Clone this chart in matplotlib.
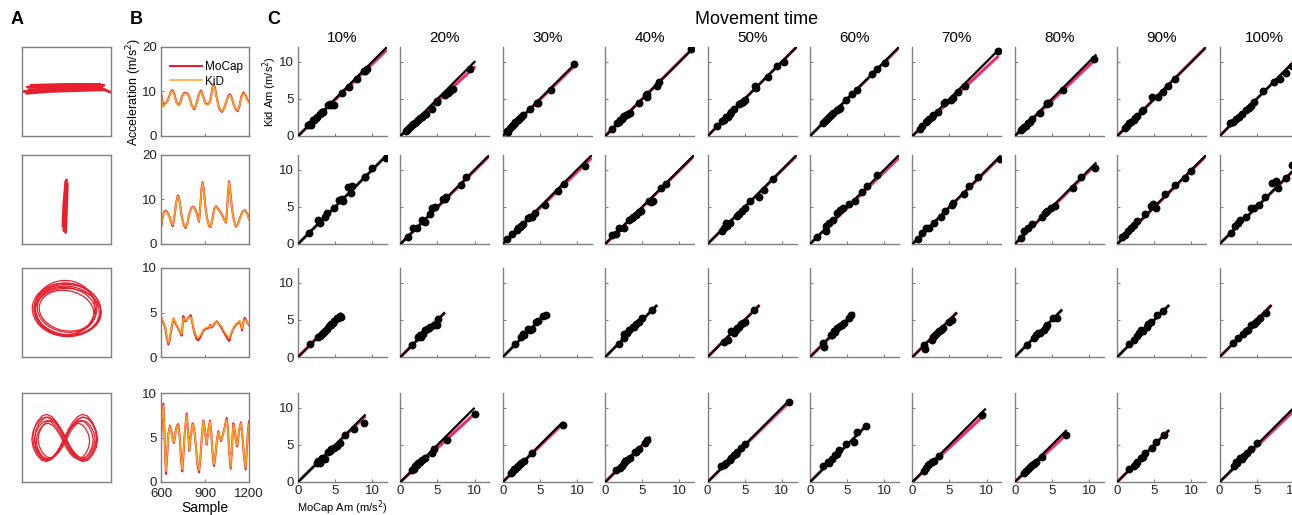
import matplotlib
matplotlib.use("Agg")
import matplotlib.pyplot as plt
from matplotlib.patches import Ellipse
import numpy as np

plt.rcParams['font.family'] = ['Liberation Sans', 'DejaVu Sans']

# ---------------- data ----------------
percent_labels = ['10%', '20%', '30%', '40%', '50%', '60%', '70%', '80%', '90%', '100%']

# Panel A trajectories (normalised box coordinates)
a1_strokes_x = [[0.0, 0.3, 0.6, 0.9, 1.0], [0.06, 0.35, 0.65, 0.92], [0.08, 0.4, 0.7, 0.9],
                [0.05, 0.3, 0.6, 0.93], [0.1, 0.5, 0.88]]
a1_strokes_y = [[0.50, 0.51, 0.52, 0.53, 0.49], [0.55, 0.55, 0.56, 0.57], [0.52, 0.53, 0.54, 0.55],
                [0.48, 0.50, 0.51, 0.52], [0.57, 0.58, 0.58]]
a2_strokes_x = [[0.47, 0.48, 0.49], [0.49, 0.50, 0.51], [0.48, 0.49, 0.50], [0.46, 0.47, 0.49]]
a2_strokes_y = [[0.15, 0.45, 0.70], [0.13, 0.40, 0.68], [0.18, 0.50, 0.72], [0.20, 0.45, 0.66]]
ell_cx = [0.50, 0.51, 0.49, 0.50, 0.52, 0.48, 0.50, 0.51]
ell_cy = [0.53, 0.52, 0.54, 0.53, 0.51, 0.55, 0.52, 0.53]
ell_w = [0.77, 0.72, 0.70, 0.66, 0.74, 0.68, 0.62, 0.75]
ell_h = [0.60, 0.55, 0.58, 0.50, 0.52, 0.62, 0.45, 0.57]
ell_ang = [-5, -8, 0, -10, -5, 5, -12, -3]
fig8_u = [0.00, 0.12, 0.25, 0.40, 0.55, 0.70, 0.85, 0.96, 1.00, 0.96, 0.85, 0.70, 0.55, 0.40, 0.25, 0.12,
          0.00, -0.12, -0.25, -0.40, -0.55, -0.70, -0.85, -0.96, -1.00, -0.96, -0.85, -0.70, -0.55, -0.40,
          -0.25, -0.12, 0.00]
fig8_v = [0.00, 0.18, 0.33, 0.45, 0.50, 0.47, 0.35, 0.18, 0.00, -0.18, -0.35, -0.47, -0.50, -0.45, -0.33,
          -0.18, 0.00, 0.18, 0.33, 0.45, 0.50, 0.47, 0.35, 0.18, 0.00, -0.18, -0.35, -0.47, -0.50, -0.45,
          -0.33, -0.18, 0.00]
f8_cx = [0.48, 0.47, 0.49, 0.46, 0.48, 0.50]
f8_cy = [0.48, 0.47, 0.49, 0.46, 0.50, 0.48]
f8_sx = [0.37, 0.33, 0.35, 0.30, 0.36, 0.32]
f8_sy = [0.50, 0.44, 0.48, 0.40, 0.52, 0.42]

# Panel B acceleration time series
b1_t = [600, 606, 616, 628, 640, 655, 668, 680, 692, 705, 718, 730, 742, 755, 768, 782, 795, 810, 827, 842,
        858, 873, 888, 903, 918, 930, 940, 950, 959, 968, 980, 995, 1014, 1030, 1048, 1060, 1070, 1082, 1096,
        1110, 1123, 1135, 1148, 1161, 1175, 1188, 1200]
b1_mocap = [9.8, 8.5, 6.8, 7.3, 7.6, 8.8, 10.0, 10.3, 9.3, 7.6, 7.0, 7.2, 8.8, 9.6, 9.7, 9.5, 8.6, 6.8, 6.0,
            7.3, 9.4, 10.2, 8.8, 7.3, 7.1, 7.4, 8.6, 10.6, 11.6, 10.8, 8.6, 6.3, 5.4, 6.2, 8.0, 9.1, 9.4, 8.6,
            7.0, 6.0, 5.6, 6.8, 8.8, 9.8, 9.2, 8.2, 7.7]
b1_kid = [9.5, 8.2, 6.5, 7.1, 7.5, 8.7, 9.9, 10.1, 9.2, 7.5, 6.8, 7.1, 8.7, 9.5, 9.6, 9.4, 8.5, 6.8, 6.2,
          7.2, 9.3, 10.0, 8.7, 7.2, 7.0, 7.3, 8.5, 10.4, 11.3, 10.6, 8.5, 6.4, 5.6, 6.3, 7.9, 9.0, 9.2, 8.5,
          7.0, 6.1, 5.8, 6.8, 8.6, 9.6, 9.0, 8.1, 7.4]
b2_t = [600, 610, 620, 632, 645, 660, 672, 680, 690, 702, 712, 718, 728, 740, 755, 768, 780, 795, 808, 820,
        832, 845, 859, 868, 876, 884, 892, 902, 915, 928, 938, 950, 962, 975, 990, 1005, 1020, 1035, 1043,
        1050, 1057, 1064, 1072, 1082, 1095, 1111, 1125, 1140, 1155, 1173, 1188, 1200]
b2_mocap = [3.6, 5.8, 7.2, 7.5, 7.0, 6.0, 4.5, 4.0, 5.8, 9.0, 10.6, 10.9, 9.4, 6.5, 4.3, 3.6, 4.8, 7.0, 8.2,
            8.4, 7.9, 6.8, 5.0, 8.5, 12.4, 13.9, 12.2, 8.5, 5.6, 4.0, 3.8, 5.5, 7.8, 8.5, 7.9, 7.2, 6.3, 5.2,
            4.8, 7.5, 11.5, 14.1, 12.0, 8.5, 5.6, 3.9, 4.6, 6.0, 7.2, 7.6, 6.8, 5.6]
b2_kid = [3.8, 5.9, 7.1, 7.4, 6.9, 5.9, 4.6, 4.2, 5.9, 8.9, 10.4, 10.7, 9.3, 6.5, 4.4, 3.8, 4.9, 7.0, 8.1,
          8.3, 7.8, 6.7, 5.1, 8.4, 12.2, 13.7, 12.0, 8.4, 5.6, 4.1, 3.9, 5.5, 7.7, 8.4, 7.8, 7.1, 6.2, 5.2,
          4.9, 7.4, 11.3, 13.9, 11.9, 8.4, 5.6, 4.0, 4.6, 5.9, 7.1, 7.5, 6.7, 5.5]
b3_t = [600, 612, 627, 640, 650, 659, 668, 684, 693, 705, 718, 730, 741, 747, 752, 760, 770, 780, 793, 802,
        812, 825, 843, 856, 870, 890, 910, 925, 935, 944, 955, 965, 980, 1000, 1015, 1035, 1055, 1066, 1078,
        1093, 1110, 1135, 1147, 1153, 1160, 1170, 1185, 1200]
b3_mocap = [4.5, 4.0, 3.4, 2.2, 1.4, 1.9, 2.9, 4.3, 4.0, 3.6, 3.2, 2.8, 2.4, 3.5, 4.6, 4.1, 4.0, 4.3, 4.5, 4.7,
            4.0, 2.9, 2.0, 1.9, 2.3, 3.0, 3.2, 3.3, 3.6, 3.3, 3.5, 3.8, 4.0, 3.6, 3.2, 2.6, 2.0, 1.8, 2.6, 3.2,
            3.6, 4.0, 3.5, 3.0, 3.8, 4.4, 4.0, 3.6]
b3_kid = [4.5, 4.1, 3.5, 2.4, 1.6, 2.0, 3.1, 4.4, 4.1, 3.7, 3.3, 2.9, 2.6, 3.5, 4.4, 4.2, 4.1, 4.3, 4.4, 4.5,
          4.1, 3.1, 2.3, 2.2, 2.5, 3.1, 3.3, 3.4, 3.5, 3.4, 3.6, 3.9, 3.9, 3.7, 3.4, 2.8, 2.3, 2.1, 2.7, 3.3,
          3.7, 4.1, 3.6, 3.2, 3.8, 4.2, 4.0, 3.7]
b4_t = [600, 606, 616, 622, 628, 634, 642, 650, 661, 672, 682, 689, 698, 708, 718, 728, 737, 745, 752, 762,
        775, 782, 793, 803, 816, 826, 838, 850, 859, 868, 878, 889, 898, 911, 920, 934, 943, 952, 961, 970,
        980, 991, 1000, 1010, 1020, 1035, 1048, 1056, 1065, 1075, 1082, 1093, 1103, 1112, 1120, 1132, 1145,
        1155, 1165, 1177, 1185, 1192, 1200]
b4_mocap = [4.8, 6.8, 8.8, 6.5, 3.2, 0.9, 3.0, 5.4, 6.3, 5.6, 4.6, 4.4, 5.5, 6.3, 6.5, 5.0, 2.5, 1.2, 2.8,
            5.5, 7.7, 6.3, 3.5, 5.2, 6.6, 6.0, 4.0, 1.8, 1.1, 2.5, 5.0, 6.9, 6.0, 4.2, 5.5, 6.9, 5.5, 3.2, 1.8,
            2.8, 4.5, 5.7, 5.0, 4.6, 5.2, 6.2, 7.2, 6.0, 3.5, 1.5, 3.3, 6.6, 5.8, 4.5, 4.0, 5.8, 6.7, 5.2, 3.0,
            1.4, 3.5, 5.5, 6.8]
b4_kid = [5.0, 6.9, 8.6, 6.4, 3.3, 1.2, 3.1, 5.4, 6.2, 5.5, 4.6, 4.5, 5.5, 6.2, 6.4, 5.0, 2.7, 1.4, 2.9,
          5.5, 7.5, 6.2, 3.6, 5.2, 6.5, 5.9, 4.0, 2.0, 1.3, 2.6, 5.0, 6.8, 5.9, 4.3, 5.5, 6.8, 5.4, 3.3, 2.0,
          2.9, 4.5, 5.6, 5.0, 4.7, 5.2, 6.1, 7.0, 5.9, 3.6, 1.7, 3.4, 6.5, 5.7, 4.5, 4.1, 5.8, 6.6, 5.2, 3.1,
          1.6, 3.5, 5.4, 6.5]

# Panel C scatter data: MoCap Am (x) vs KiD Am (y), one list per movement-time column
c_row1_x = [[1.4, 1.7, 1.6, 2.0, 2.2, 2.3, 2.4, 2.6, 3.0, 3.1, 3.2, 3.3, 3.4, 4.1, 4.3, 4.4, 4.8, 5.9, 6.9, 8.0, 8.9, 9.1, 9.3],
            [0.7, 0.9, 1.0, 1.3, 1.5, 1.7, 2.0, 2.2, 2.4, 2.6, 2.9, 3.2, 3.4, 4.2, 4.9, 5.0, 6.0, 6.4, 6.7, 7.1, 9.4],
            [0.6, 0.7, 1.0, 1.2, 1.4, 1.6, 1.7, 2.0, 2.2, 2.4, 2.7, 3.7, 4.6, 4.7, 6.5, 9.6],
            [0.9, 1.6, 1.8, 2.0, 2.2, 2.4, 2.6, 2.8, 3.1, 3.4, 4.5, 5.5, 5.6, 5.7, 7.0, 7.3, 11.6],
            [1.3, 2.0, 2.2, 2.5, 2.7, 3.0, 3.2, 3.5, 4.3, 4.5, 4.8, 5.1, 6.4, 6.5, 8.1, 9.4, 10.3],
            [1.8, 2.0, 2.3, 2.6, 2.8, 3.1, 3.6, 3.9, 4.1, 4.9, 5.7, 6.4, 8.4, 9.1, 10.1],
            [1.0, 1.3, 1.8, 2.0, 2.3, 2.6, 2.8, 3.4, 4.3, 4.4, 5.2, 5.5, 6.2, 7.1, 11.5],
            [0.8, 1.0, 1.3, 1.5, 1.8, 2.0, 2.3, 3.4, 4.3, 4.4, 4.6, 6.5, 10.7],
            [1.0, 1.3, 1.6, 1.9, 2.2, 2.4, 2.7, 3.3, 3.5, 4.7, 5.5, 6.2, 6.9, 7.8],
            [1.4, 1.8, 2.2, 2.6, 3.0, 3.5, 4.0, 4.3, 4.7, 5.9, 7.4, 8.1, 9.0, 9.8]]
c_row1_y = [[1.45, 1.5, 1.6, 2.1, 2.2, 2.3, 2.4, 2.6, 3.0, 3.1, 3.2, 3.3, 3.2, 4.2, 4.3, 4.2, 4.2, 5.8, 6.6, 7.7, 8.8, 8.7, 9.0],
            [0.7, 0.8, 1.0, 1.25, 1.45, 1.6, 1.8, 2.0, 2.2, 2.4, 2.6, 2.8, 2.9, 3.6, 4.7, 4.6, 5.5, 5.8, 6.0, 6.4, 9.0],
            [0.7, 0.6, 1.1, 1.3, 1.5, 1.7, 1.9, 2.2, 2.3, 2.5, 2.8, 3.6, 4.5, 4.4, 6.2, 9.7],
            [0.9, 1.7, 1.9, 2.1, 2.3, 2.6, 2.7, 2.8, 3.0, 3.1, 4.5, 5.5, 5.6, 5.3, 6.7, 7.3, 11.7],
            [1.3, 2.0, 2.1, 2.5, 2.6, 3.0, 3.2, 3.6, 4.3, 4.4, 4.6, 4.8, 6.7, 6.5, 7.9, 9.4, 10.0],
            [1.75, 2.0, 2.3, 2.6, 2.8, 3.1, 3.5, 3.6, 3.8, 4.9, 5.6, 6.2, 8.3, 9.1, 9.8],
            [1.0, 1.3, 1.9, 2.0, 2.3, 2.5, 2.8, 3.2, 4.5, 4.6, 4.9, 5.1, 5.9, 6.7, 11.5],
            [0.75, 0.9, 1.2, 1.4, 1.75, 1.9, 2.3, 3.1, 4.4, 4.3, 4.45, 6.2, 10.4],
            [1.1, 1.4, 1.75, 1.9, 2.2, 2.4, 2.65, 3.4, 3.55, 5.2, 5.3, 5.9, 6.8, 7.7],
            [1.7, 1.9, 2.3, 2.6, 3.0, 3.5, 3.8, 4.1, 4.6, 6.1, 7.3, 7.7, 8.5, 9.5]]
c_row2_x = [[1.5, 2.7, 3.0, 3.6, 3.9, 4.8, 5.5, 5.9, 6.1, 6.7, 7.3, 7.1, 9.0, 9.1, 10.0, 11.8],
            [1.0, 1.7, 2.2, 2.9, 3.1, 3.3, 4.0, 4.2, 4.7, 5.8, 6.0, 6.2, 8.2, 8.9],
            [0.6, 1.3, 1.9, 2.1, 2.3, 2.5, 2.7, 3.4, 3.7, 3.9, 4.3, 5.7, 7.4, 8.2, 11.1],
            [0.9, 1.4, 1.9, 2.5, 3.2, 3.6, 3.8, 4.1, 4.5, 4.8, 5.9, 6.2, 6.4, 7.5, 8.2],
            [1.9, 2.2, 2.6, 2.5, 3.0, 4.0, 4.3, 4.6, 5.1, 5.7, 6.9, 7.6, 8.8],
            [1.0, 2.1, 2.2, 2.6, 3.1, 3.6, 4.1, 4.4, 5.2, 6.0, 7.0, 7.7, 9.1],
            [0.7, 1.3, 1.8, 2.3, 2.9, 3.9, 4.4, 5.3, 5.5, 7.0, 7.6, 8.8, 11.8],
            [0.8, 1.3, 1.8, 2.3, 3.6, 4.1, 4.4, 4.9, 5.4, 7.9, 8.9, 10.8],
            [0.7, 1.1, 1.4, 1.8, 2.2, 2.7, 3.7, 4.5, 4.8, 5.2, 6.5, 7.8, 9.1, 9.9],
            [1.6, 2.1, 2.5, 2.8, 3.5, 4.3, 4.6, 5.3, 6.1, 7.1, 7.6, 7.9, 8.9, 9.8]]
c_row2_y = [[1.5, 3.2, 2.8, 3.7, 4.2, 4.9, 5.9, 6.0, 5.8, 7.7, 7.8, 6.9, 9.0, 9.1, 10.3, 11.6],
            [0.9, 2.1, 2.2, 3.2, 3.1, 3.0, 4.1, 4.8, 5.0, 6.0, 6.1, 6.3, 8.0, 9.0],
            [0.7, 1.35, 1.9, 2.1, 2.25, 2.4, 2.7, 3.5, 3.6, 3.7, 4.2, 5.3, 7.1, 8.1, 10.5],
            [1.2, 1.3, 2.2, 2.2, 3.2, 3.5, 3.7, 3.9, 4.3, 4.5, 5.8, 5.7, 5.8, 7.5, 8.1],
            [1.7, 2.2, 2.4, 2.8, 2.8, 3.8, 4.0, 4.5, 4.8, 5.8, 6.4, 7.3, 8.7],
            [1.0, 2.4, 1.7, 2.8, 3.3, 4.2, 4.6, 4.9, 5.4, 5.8, 7.0, 7.8, 9.3],
            [0.7, 1.5, 2.2, 2.2, 2.8, 3.7, 4.5, 5.2, 5.5, 6.7, 7.8, 9.1, 11.4],
            [0.8, 1.7, 2.2, 2.7, 3.7, 4.2, 4.5, 4.8, 5.1, 7.6, 9.1, 10.3],
            [0.9, 1.2, 1.7, 2.2, 2.6, 3.1, 4.0, 5.1, 5.4, 4.9, 6.7, 8.0, 8.9, 9.8],
            [1.5, 2.4, 2.8, 3.3, 3.7, 4.9, 4.8, 5.2, 6.4, 8.2, 8.5, 7.6, 8.9, 10.7]]
c_row3_x = [[1.6, 2.7, 2.9, 3.2, 3.4, 3.5, 3.7, 3.9, 4.2, 4.4, 4.5, 4.7, 4.9, 5.2, 5.4, 5.6, 5.8],
            [1.5, 2.4, 2.6, 2.8, 3.1, 3.3, 3.6, 3.8, 4.0, 4.5, 4.9, 5.1],
            [1.7, 2.4, 2.7, 2.9, 3.4, 3.6, 3.9, 4.5, 4.7, 5.4, 5.8],
            [1.8, 2.5, 2.6, 3.0, 3.2, 3.7, 3.9, 4.2, 4.5, 5.0, 6.3],
            [2.2, 2.7, 3.2, 3.5, 3.8, 4.0, 4.3, 4.5, 4.8, 5.1, 6.3],
            [1.8, 1.9, 2.8, 3.0, 3.2, 3.4, 3.6, 4.1, 4.3, 4.6, 5.3, 5.5],
            [1.5, 1.7, 2.6, 2.8, 3.1, 3.3, 3.6, 3.8, 4.1, 5.0, 5.4],
            [1.7, 2.6, 2.8, 3.1, 3.4, 4.0, 4.2, 4.4, 5.2, 5.7],
            [1.6, 2.2, 2.7, 3.0, 3.2, 3.5, 4.0, 4.2, 4.5, 5.3, 6.2],
            [1.8, 2.5, 3.1, 3.5, 3.8, 4.3, 4.6, 4.8, 5.1, 5.4, 6.2]]
c_row3_y = [[1.7, 2.7, 2.8, 3.15, 3.2, 3.4, 3.5, 3.8, 4.2, 4.3, 4.5, 4.6, 4.9, 5.2, 5.3, 5.5, 5.4],
            [1.6, 2.7, 2.9, 2.7, 3.15, 3.6, 3.8, 3.9, 4.05, 4.3, 4.3, 5.1],
            [1.7, 2.7, 3.05, 2.9, 3.8, 3.7, 3.8, 4.7, 4.8, 5.5, 5.6],
            [1.8, 2.5, 3.15, 3.2, 3.6, 4.05, 4.1, 4.5, 4.7, 5.2, 6.3],
            [2.0, 2.35, 3.5, 3.3, 3.6, 3.9, 4.1, 4.4, 4.6, 4.75, 6.3],
            [1.9, 1.3, 2.9, 3.0, 3.5, 3.4, 3.85, 4.2, 4.3, 4.6, 5.3, 5.6],
            [1.6, 1.1, 2.35, 2.7, 2.9, 3.2, 3.5, 3.7, 3.85, 4.75, 5.0],
            [1.6, 2.6, 2.9, 3.3, 3.3, 3.6, 4.0, 4.3, 5.2, 5.3],
            [1.7, 2.3, 2.8, 3.3, 3.6, 3.5, 4.1, 4.4, 4.75, 5.6, 6.2],
            [1.9, 2.5, 3.15, 3.5, 3.6, 4.3, 4.5, 4.6, 4.9, 5.2, 6.0]]
c_row4_x = [[2.5, 2.7, 3.0, 3.3, 3.6, 4.1, 4.3, 4.5, 4.9, 5.2, 5.7, 6.4, 7.5, 8.9],
            [1.6, 1.8, 1.95, 2.2, 2.4, 2.6, 2.9, 3.3, 4.2, 4.5, 6.3, 10.1],
            [1.1, 1.3, 1.5, 1.7, 1.9, 2.1, 2.3, 2.5, 2.8, 3.9, 8.1],
            [1.45, 2.0, 2.2, 2.5, 2.7, 3.0, 3.4, 4.0, 4.2, 4.5, 5.4, 5.7],
            [1.85, 2.2, 2.5, 3.0, 3.2, 3.5, 3.8, 4.0, 4.5, 5.1, 11.0],
            [1.8, 2.4, 2.6, 2.9, 3.35, 3.6, 3.9, 4.9, 5.9, 6.4, 7.6],
            [1.5, 1.8, 2.1, 2.3, 2.6, 2.9, 3.6, 9.4],
            [1.2, 1.5, 1.8, 2.0, 2.3, 2.6, 2.8, 3.6, 6.9],
            [1.55, 2.2, 2.5, 2.7, 3.2, 3.5, 3.8, 4.7, 5.2, 6.3],
            [2.0, 2.2, 2.4, 2.7, 3.0, 3.25, 3.7, 4.3, 5.1]]
c_row4_y = [[2.5, 2.8, 2.6, 3.3, 3.1, 4.0, 4.2, 4.4, 4.6, 4.9, 5.2, 6.4, 7.1, 8.0],
            [1.6, 1.8, 2.15, 2.3, 2.6, 2.7, 3.0, 3.3, 3.9, 4.5, 5.65, 9.2],
            [1.25, 1.4, 1.7, 1.8, 2.05, 2.2, 2.4, 2.5, 2.8, 3.95, 7.75],
            [1.6, 1.9, 2.1, 2.5, 2.8, 3.0, 3.3, 4.0, 4.1, 4.4, 5.3, 5.7],
            [2.15, 2.3, 2.5, 2.95, 3.3, 3.6, 3.8, 4.0, 4.6, 5.1, 10.8],
            [2.15, 2.7, 2.6, 3.1, 3.7, 3.8, 4.3, 5.1, 5.4, 6.7, 7.5],
            [1.5, 1.9, 2.25, 2.4, 2.7, 2.8, 3.5, 9.0],
            [1.25, 1.5, 1.8, 2.0, 2.25, 2.4, 2.7, 3.4, 6.3],
            [1.8, 2.15, 2.4, 2.7, 3.3, 3.4, 3.85, 4.6, 5.4, 6.3],
            [2.15, 2.7, 2.6, 3.3, 3.1, 3.5, 3.9, 4.5, 5.3]]
# extent of identity (black) line and slope of fitted (pink) line per panel
line_end = [[12, 10.1, 9.8, 12, 12, 12, 11.6, 11.0, 12, 12],
            [12, 12, 12, 12, 12, 12, 12, 11.0, 12, 12],
            [5.9, 6.0, 5.9, 7.0, 7.0, 6.0, 6.0, 6.4, 7.0, 7.0],
            [9.1, 10.0, 8.1, 6.1, 11.1, 7.8, 9.9, 7.0, 7.0, 12]]
fit_slope = [[0.97, 0.93, 0.98, 1.0, 1.0, 0.99, 0.93, 0.95, 1.0, 1.0],
             [1.0, 0.99, 0.97, 0.99, 0.99, 0.97, 0.99, 0.98, 0.99, 0.99],
             [1.0, 1.0, 1.0, 1.0, 1.0, 1.0, 1.0, 1.0, 1.0, 1.0],
             [0.98, 0.92, 0.97, 1.0, 0.98, 1.0, 0.93, 0.92, 1.0, 0.96]]

# ---------------- figure ----------------
W, H = 1292, 515
fig = plt.figure(figsize=(W / 100, H / 100), dpi=100)


def add_px(left, top, width, height):
    return fig.add_axes([left / W, 1 - (top + height) / H, width / W, height / H])


ROW_TOP = [47, 155, 268, 393]
ROW_H = 89
SPINE = '#808080'
RED = '#e8202e'
ORANGE = '#ffa51f'
PINK = '#f5286e'
TICK_FS = 9.5


def style_spines(ax, sides):
    for name, s in ax.spines.items():
        if name in sides:
            s.set_color(SPINE)
            s.set_linewidth(1.0)
        else:
            s.set_visible(False)


# Panel A
for r in range(4):
    ax = add_px(22, ROW_TOP[r], 89, ROW_H)
    ax.set_xlim(0, 1)
    ax.set_ylim(0, 1)
    ax.set_xticks([])
    ax.set_yticks([])
    style_spines(ax, ['left', 'right', 'top', 'bottom'])
    if r == 0:
        for xs, ys in zip(a1_strokes_x, a1_strokes_y):
            ax.plot(xs, ys, color=RED, lw=2.0, solid_capstyle='round')
    elif r == 1:
        for xs, ys in zip(a2_strokes_x, a2_strokes_y):
            ax.plot(xs, ys, color=RED, lw=2.0, solid_capstyle='round')
    elif r == 2:
        for cx, cy, w, h, a in zip(ell_cx, ell_cy, ell_w, ell_h, ell_ang):
            ax.add_patch(Ellipse((cx, cy), w, h, angle=a, fill=False, ec=RED, lw=0.9))
    else:
        u = np.array(fig8_u)
        v = np.array(fig8_v)
        for cx, cy, sx, sy in zip(f8_cx, f8_cy, f8_sx, f8_sy):
            ax.plot(cx + sx * u, cy + sy * v, color=RED, lw=0.9)

# Panel B
b_t = [b1_t, b2_t, b3_t, b4_t]
b_m = [b1_mocap, b2_mocap, b3_mocap, b4_mocap]
b_k = [b1_kid, b2_kid, b3_kid, b4_kid]
b_ymax = [20, 20, 10, 10]
for r in range(4):
    ax = add_px(161, ROW_TOP[r], 88, ROW_H)
    ax.plot(b_t[r], b_m[r], color=RED, lw=1.5, label='MoCap')
    ax.plot(b_t[r], b_k[r], color=ORANGE, lw=1.1, label='KiD')
    ax.set_xlim(600, 1200)
    ax.set_ylim(0, b_ymax[r])
    ax.set_yticks([0, b_ymax[r] / 2, b_ymax[r]])
    ax.set_yticklabels(['0', str(b_ymax[r] // 2), str(b_ymax[r])])
    ax.set_xticks([600, 900, 1200])
    style_spines(ax, ['left', 'right', 'top', 'bottom'])
    ax.tick_params(direction='in', length=2.5, width=0.8, color=SPINE, labelsize=TICK_FS,
                   labelcolor='#222222', pad=3)
    ax.tick_params(axis='x', pad=4)
    if r < 3:
        ax.set_xticklabels([])
    if r == 0:
        ax.legend(loc='upper left', bbox_to_anchor=(0.02, 0.92), frameon=False, fontsize=8.5,
                  handlelength=2.7, handletextpad=0.25, labelspacing=0.2, borderaxespad=0.2)

fig.text(134 / W, 1 - 92 / H, 'Acceleration (m/s$^2$)', rotation=90, ha='center', va='center', fontsize=9)
fig.text(205 / W, 1 - 508 / H, 'Sample', ha='center', va='center', fontsize=10)

# Panel C
c_x = [c_row1_x, c_row2_x, c_row3_x, c_row4_x]
c_y = [c_row1_y, c_row2_y, c_row3_y, c_row4_y]
C_LEFT0 = 298
C_STEP = 102.4
C_W = 89
for r in range(4):
    for c in range(10):
        left = C_LEFT0 + C_STEP * c
        ax = add_px(left, ROW_TOP[r], C_W, ROW_H)
        end = line_end[r][c]
        ax.plot([0, end], [0, fit_slope[r][c] * end], color=PINK, lw=2.2, zorder=2,
                solid_capstyle='butt')
        ax.plot([0, end], [0, end], color='black', lw=1.6, zorder=3, solid_capstyle='butt')
        ax.scatter(c_x[r][c], c_y[r][c], s=32, color='black', zorder=4, linewidths=0)
        ax.set_xlim(0, 12)
        ax.set_ylim(0, 12)
        ax.set_xticks([0, 5, 10])
        ax.set_yticks([0, 5, 10])
        style_spines(ax, ['left', 'bottom'])
        ax.tick_params(direction='in', length=2.5, width=0.8, color=SPINE, labelsize=TICK_FS,
                       labelcolor='#222222', pad=3)
        ax.tick_params(axis='x', pad=2.5)
        if c > 0:
            ax.set_yticklabels([])
        if r < 3:
            ax.set_xticklabels([])
        if r == 0:
            fig.text((left + C_W / 2) / W, 1 - 38 / H, percent_labels[c], ha='center', va='center',
                     fontsize=11)

fig.text(270 / W, 1 - 92 / H, 'Kid Am (m/s$^2$)', rotation=90, ha='center', va='center', fontsize=8)
fig.text(342 / W, 1 - 507.5 / H, 'MoCap Am (m/s$^2$)', ha='center', va='center', fontsize=8)
fig.text(757 / W, 1 - 19 / H, 'Movement time', ha='center', va='center', fontsize=13)

for lab, x in zip(['A', 'B', 'C'], [17, 136, 274]):
    fig.text(x / W, 1 - 20 / H, lab, ha='center', va='center', fontsize=13, fontweight='bold')

fig.savefig('out.png', dpi=100)
